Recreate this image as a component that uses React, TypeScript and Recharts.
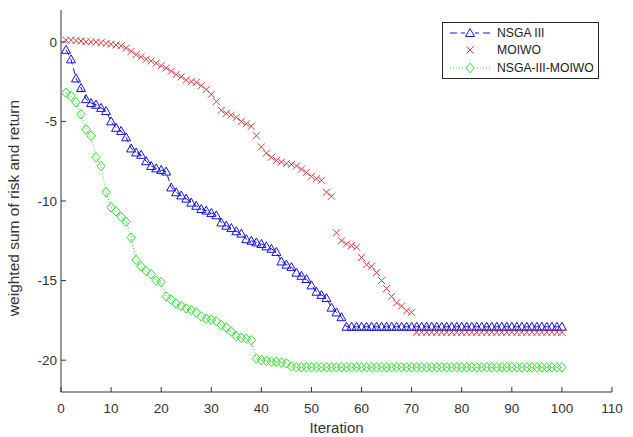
import React from 'react';
import { LineChart, Line, XAxis, YAxis, Legend } from 'recharts';

const iterations = Array.from({ length: 100 }, (_, i) => i + 1);

const nsga3 = [
  -0.5, -1.1, -2.3, -2.9, -3.6, -3.85, -3.95, -4.15, -4.35, -5.0,
  -5.4, -5.6, -6.0, -6.7, -6.95, -7.1, -7.5, -7.8, -7.95, -8.05,
  -8.15, -9.15, -9.45, -9.65, -9.85, -10.1, -10.3, -10.5, -10.6, -10.75,
  -10.9, -11.35, -11.55, -11.7, -11.9, -12.05, -12.4, -12.5, -12.6, -12.7,
  -12.85, -13.0, -13.2, -13.8, -14.0, -14.15, -14.5, -14.7, -14.9, -15.3,
  -15.7, -15.9, -16.1, -16.7, -17.0, -17.3, -17.9, -17.9, -17.9, -17.9,
  -17.9, -17.9, -17.9, -17.9, -17.9, -17.9, -17.9, -17.9, -17.9, -17.9,
  -17.9, -17.9, -17.9, -17.9, -17.9, -17.9, -17.9, -17.9, -17.9, -17.9,
  -17.9, -17.9, -17.9, -17.9, -17.9, -17.9, -17.9, -17.9, -17.9, -17.9,
  -17.9, -17.9, -17.9, -17.9, -17.9, -17.9, -17.9, -17.9, -17.9, -17.9,
];

const moiwo = [
  0.1, 0.1, 0.08, 0.05, 0.0, 0.0, -0.02, -0.05, -0.1, -0.15,
  -0.2, -0.25, -0.4, -0.6, -0.8, -0.95, -1.1, -1.2, -1.35, -1.5,
  -1.65, -1.85, -2.05, -2.2, -2.4, -2.5, -2.55, -2.75, -3.0, -3.3,
  -3.75, -4.3, -4.5, -4.6, -4.75, -5.0, -5.15, -5.3, -5.9, -6.6,
  -7.0, -7.25, -7.45, -7.55, -7.65, -7.7, -7.8, -8.0, -8.2, -8.45,
  -8.6, -8.7, -9.45, -9.7, -12.0, -12.5, -12.7, -12.8, -12.9, -13.55,
  -14.0, -14.1, -14.5, -15.0, -15.5, -16.0, -16.4, -16.6, -16.9, -17.0,
  -18.25, -18.25, -18.25, -18.25, -18.25, -18.25, -18.25, -18.25, -18.25, -18.25,
  -18.25, -18.25, -18.25, -18.25, -18.25, -18.25, -18.25, -18.25, -18.25, -18.25,
  -18.25, -18.25, -18.25, -18.25, -18.25, -18.25, -18.25, -18.25, -18.25, -18.25,
];

const hybrid = [
  -3.2, -3.4, -3.8, -4.55, -5.5, -5.9, -7.25, -7.8, -9.45, -10.4,
  -10.65, -11.0, -11.3, -12.3, -13.7, -14.1, -14.4, -14.6, -15.0, -15.1,
  -16.0, -16.2, -16.45, -16.6, -16.75, -16.85, -17.0, -17.25, -17.4, -17.45,
  -17.55, -17.8, -17.95, -18.2, -18.5, -18.6, -18.65, -18.75, -19.9, -20.0,
  -20.05, -20.1, -20.1, -20.15, -20.2, -20.4, -20.45, -20.45, -20.45, -20.45,
  -20.45, -20.45, -20.45, -20.45, -20.45, -20.45, -20.45, -20.45, -20.45, -20.45,
  -20.45, -20.45, -20.45, -20.45, -20.45, -20.45, -20.45, -20.45, -20.45, -20.45,
  -20.45, -20.45, -20.45, -20.45, -20.45, -20.45, -20.45, -20.45, -20.45, -20.45,
  -20.45, -20.45, -20.45, -20.45, -20.45, -20.45, -20.45, -20.45, -20.45, -20.45,
  -20.45, -20.45, -20.45, -20.45, -20.45, -20.45, -20.45, -20.45, -20.45, -20.45,
];

const seriesNames = ['NSGA III', 'MOIWO', 'NSGA-III-MOIWO'];
const xTicks = [0, 10, 20, 30, 40, 50, 60, 70, 80, 90, 100, 110];
const yTicks = [-20, -15, -10, -5, 0];
const xLabel = 'Iteration';
const yLabel = 'weighted sum of risk and return';

const BLUE = '#1414d8';
const RED = '#d23c3c';
const GREEN = '#2ee02e';
const AXIS = '#333333';
const TEXT = '#333333';
const FONT = '"Liberation Sans", Arial, Helvetica, sans-serif';

const toPoints = (vals: number[]) => iterations.map((x, i) => ({ x, y: vals[i] }));
const nsgaData = toPoints(nsga3);
const moiwoData = toPoints(moiwo);
const hybridData = toPoints(hybrid);

const Tri = ({ cx, cy }: { cx: number; cy: number }) => (
  <path
    d={`M${cx},${cy - 4.5} L${cx + 4.5},${cy + 3.5} L${cx - 4.5},${cy + 3.5} Z`}
    fill="none"
    stroke={BLUE}
    strokeWidth={1}
  />
);
const Cross = ({ cx, cy }: { cx: number; cy: number }) => (
  <path
    d={`M${cx - 3.5},${cy - 3.5} L${cx + 3.5},${cy + 3.5} M${cx - 3.5},${cy + 3.5} L${cx + 3.5},${cy - 3.5}`}
    fill="none"
    stroke={RED}
    strokeWidth={1}
  />
);
const Diamond = ({ cx, cy }: { cx: number; cy: number }) => (
  <path
    d={`M${cx},${cy - 4.8} L${cx + 4.2},${cy} L${cx},${cy + 4.8} L${cx - 4.2},${cy} Z`}
    fill="none"
    stroke={GREEN}
    strokeWidth={1}
  />
);

const BottomTick = (props: any) => {
  const { x, y, payload } = props;
  return (
    <g>
      <line x1={x} x2={x} y1={y} y2={y - 5} stroke={AXIS} strokeWidth={1} />
      <text x={x} y={y + 21} textAnchor="middle" fontSize={13.5} fill={TEXT} fontFamily={FONT}>
        {payload.value}
      </text>
    </g>
  );
};
const TopTick = (props: any) => {
  const { x, y } = props;
  return <line x1={x} x2={x} y1={y} y2={y + 5} stroke={AXIS} strokeWidth={1} />;
};
const LeftTick = (props: any) => {
  const { x, y, payload } = props;
  return (
    <g>
      <line x1={x} x2={x + 5} y1={y} y2={y} stroke={AXIS} strokeWidth={1} />
      <text x={x - 4} y={y + 4.8} textAnchor="end" fontSize={13.5} fill={TEXT} fontFamily={FONT}>
        {payload.value}
      </text>
    </g>
  );
};
const RightTick = (props: any) => {
  const { x, y } = props;
  return <line x1={x} x2={x - 5} y1={y} y2={y} stroke={AXIS} strokeWidth={1} />;
};

const LegendBox = () => {
  const rows = [
    { y: 11, color: BLUE, dash: '7 4', marker: 'tri' },
    { y: 28, color: RED, dash: '', marker: 'x' },
    { y: 46, color: GREEN, dash: '1 2', marker: 'dia' },
  ];
  return (
    <svg width={158} height={58} style={{ display: 'block' }}>
      <rect x={0.5} y={0.5} width={156} height={56} fill="#ffffff" stroke="#262626" strokeWidth={1} />
      {rows.map((r, i) => (
        <g key={i}>
          {r.marker !== 'x' && (
            <line x1={8} x2={48} y1={r.y} y2={r.y} stroke={r.color} strokeWidth={1.2} strokeDasharray={r.dash} />
          )}
          {r.marker === 'tri' && (
            <g>
              <rect x={23} y={r.y - 6} width={10} height={11} fill="#ffffff" />
              <Tri cx={28} cy={r.y} />
            </g>
          )}
          {r.marker === 'x' && <Cross cx={28} cy={r.y} />}
          {r.marker === 'dia' && (
            <g>
              <rect x={23} y={r.y - 6} width={10} height={12} fill="#ffffff" />
              <Diamond cx={28} cy={r.y} />
            </g>
          )}
          <text x={55} y={r.y + 4.3} fontSize={12.2} fill="#1a1a1a" fontFamily={FONT}>
            {seriesNames[i]}
          </text>
        </g>
      ))}
    </svg>
  );
};

export default function App() {
  return (
    <div>
      <style>{`body{margin:0;background:#ffffff;}`}</style>
      <LineChart width={633} height={437} margin={{ top: 10, right: 21, bottom: 0, left: 0 }}>
        <XAxis
          xAxisId="bottom"
          dataKey="x"
          type="number"
          domain={[0, 110]}
          ticks={xTicks}
          interval={0}
          orientation="bottom"
          height={45}
          tickSize={0}
          tickMargin={0}
          tickLine={false}
          axisLine={{ stroke: AXIS, strokeWidth: 1 }}
          tick={<BottomTick />}
          allowDataOverflow
          label={(p: any) => {
            const vb = p.viewBox || { x: 61, y: 392, width: 551 };
            return (
              <text x={vb.x + vb.width / 2} y={vb.y + 41} textAnchor="middle" fontSize={15} fill={TEXT} fontFamily={FONT}>
                {xLabel}
              </text>
            );
          }}
        />
        <XAxis
          xAxisId="top"
          dataKey="x"
          type="number"
          domain={[0, 110]}
          ticks={xTicks}
          interval={0}
          orientation="top"
          height={0}
          tickSize={0}
          tickMargin={0}
          tickLine={false}
          axisLine={{ stroke: AXIS, strokeWidth: 1 }}
          tick={<TopTick />}
          allowDataOverflow
        />
        <YAxis
          yAxisId="left"
          type="number"
          domain={[-22, 2]}
          ticks={yTicks}
          interval={0}
          orientation="left"
          width={61}
          tickSize={0}
          tickMargin={0}
          tickLine={false}
          axisLine={{ stroke: AXIS, strokeWidth: 1 }}
          tick={<LeftTick />}
          allowDataOverflow
          label={(p: any) => {
            const cy = 208;
            return (
              <text x={19} y={cy} transform={`rotate(-90 19 ${cy})`} textAnchor="middle" fontSize={15.5} fill={TEXT} fontFamily={FONT}>
                {yLabel}
              </text>
            );
          }}
        />
        <YAxis
          yAxisId="right"
          type="number"
          domain={[-22, 2]}
          ticks={yTicks}
          interval={0}
          orientation="right"
          width={0}
          tickSize={0}
          tickMargin={0}
          tickLine={false}
          axisLine={{ stroke: AXIS, strokeWidth: 1 }}
          tick={<RightTick />}
          allowDataOverflow
        />
        <Line
          xAxisId="bottom"
          yAxisId="left"
          data={nsgaData}
          dataKey="y"
          name={seriesNames[0]}
          stroke={BLUE}
          strokeWidth={1}
          strokeDasharray="6 4"
          dot={(p: any) => <Tri key={`t-${p.index}`} cx={p.cx} cy={p.cy} />}
          activeDot={false}
          isAnimationActive={false}
        />
        <Line
          xAxisId="bottom"
          yAxisId="left"
          data={moiwoData}
          dataKey="y"
          name={seriesNames[1]}
          stroke="none"
          strokeWidth={0}
          dot={(p: any) => <Cross key={`c-${p.index}`} cx={p.cx} cy={p.cy} />}
          activeDot={false}
          isAnimationActive={false}
        />
        <Line
          xAxisId="bottom"
          yAxisId="left"
          data={hybridData}
          dataKey="y"
          name={seriesNames[2]}
          stroke={GREEN}
          strokeWidth={1}
          strokeDasharray="1 2"
          dot={(p: any) => <Diamond key={`d-${p.index}`} cx={p.cx} cy={p.cy} />}
          activeDot={false}
          isAnimationActive={false}
        />
        <Legend
          layout="vertical"
          align="center"
          verticalAlign="middle"
          wrapperStyle={{ position: 'absolute', left: 442, top: 22, width: 158, height: 58 }}
          content={() => <LegendBox />}
        />
      </LineChart>
    </div>
  );
}
